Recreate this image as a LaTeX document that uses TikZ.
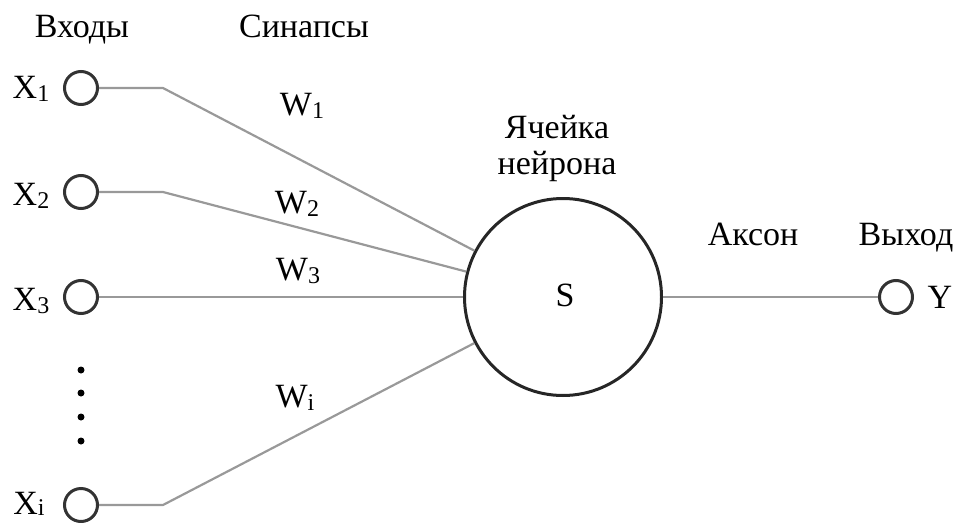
\documentclass[tikz,border=0pt]{standalone}
\usepackage{fontspec}
\setmainfont{Liberation Serif}
\newcommand\lowsub[1]{\raisebox{-3pt}{\fontsize{24}{24}\selectfont #1}}
\begin{document}
\begin{tikzpicture}[x=1pt,y=-1pt,
  font=\fontsize{34}{38}\selectfont,
  port/.style={circle,draw=black!80,line width=3pt,minimum size=33pt,inner sep=0pt},
  cell/.style={circle,draw=black!85,line width=3pt,minimum size=197pt,inner sep=0pt},
  wire/.style={draw=black!40,line width=2.2pt},
  txt/.style={inner sep=0pt,anchor=base},
  dotm/.style={circle,fill=black,inner sep=0pt,minimum size=7pt}]
\useasboundingbox (0,0) rectangle (958,522);
% headings
\node[txt] (hin) at (82,37) {Входы};
\node[txt] (hsyn) at (304,37) {Синапсы};
\node[txt] (hcell1) at (557,138) {Ячейка};
\node[txt] (hcell2) at (557,174) {нейрона};
\node[txt] (hax) at (753,245) {Аксон};
\node[txt] (hout) at (906,245) {Выход};
% input ports
\node[port] (x1) at (81,88) {};
\node[port] (x2) at (81,192) {};
\node[port] (x3) at (81,297) {};
\node[port] (xi) at (81,505) {};
\node[txt] (lx1) at (31,98) {X\lowsub{1}};
\node[txt] (lx2) at (31,205) {X\lowsub{2}};
\node[txt] (lx3) at (31,310) {X\lowsub{3}};
\node[txt] (lxi) at (29,514) {X\raisebox{-1pt}{\fontsize{24}{24}\selectfont i}};
% dots
\node[dotm] (d1) at (81,370) {};
\node[dotm] (d2) at (81,393) {};
\node[dotm] (d3) at (81,417) {};
\node[dotm] (d4) at (81,441) {};
% neuron
\node[cell] (s) at (563,297) {};
\node[txt] (ls) at (565,306) {S};
% output
\node[port] (y) at (896,297) {};
\node[txt] (ly) at (940,308) {Y};
% bends
\coordinate (b1) at (163,88);
\coordinate (b2) at (163,192);
\coordinate (bi) at (163,505);
% wires
\draw[wire] (x1) -- (b1) -- (s);
\draw[wire] (x2) -- (b2) -- (s);
\draw[wire] (x3) -- (s);
\draw[wire] (xi) -- (bi) -- (s);
\draw[wire] (s) -- (y);
% weights
\node[txt] (w1) at (302,115) {W\lowsub{1}};
\node[txt] (w2) at (297,213) {W\lowsub{2}};
\node[txt] (w3) at (298,280) {W\lowsub{3}};
\node[txt] (wi) at (295,407) {W\lowsub{i}};
\end{tikzpicture}
\end{document}
